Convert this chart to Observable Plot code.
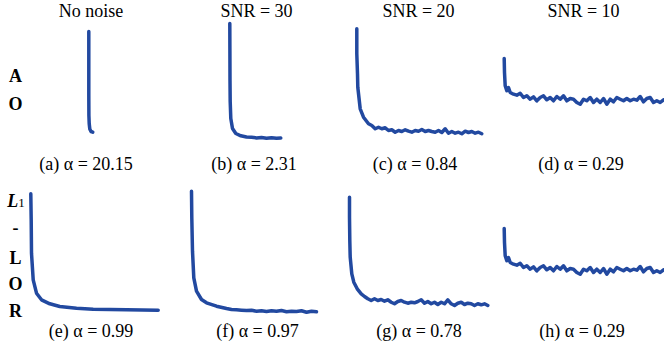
<!DOCTYPE html>
<html>
<head>
<meta charset="utf-8">
<script src="https://cdn.jsdelivr.net/npm/d3@7"></script>
<script src="https://cdn.jsdelivr.net/npm/@observablehq/plot@0.6"></script>
<style>
  html, body { margin: 0; padding: 0; background: #fff; }
  #root { position: relative; width: 664px; height: 354px; overflow: hidden; font-family: "Liberation Serif", "DejaVu Serif", serif; color: #000; }
  .t { position: absolute; font-size: 18px; line-height: 18px; white-space: nowrap; transform: translateX(-50%); }
  .lab { position: absolute; font-size: 18px; line-height: 18px; font-weight: bold; white-space: nowrap; transform: translateX(-50%); }
  .panel { position: absolute; }
</style>
</head>
<body>
<div id="root"></div>
<script>
// Column titles, captions, row labels
const columnTitles = ["No noise", "SNR = 30", "SNR = 20", "SNR = 10"];
const captionsRow1 = ["(a) α = 20.15", "(b) α = 2.31", "(c) α = 0.84", "(d) α = 0.29"];
const captionsRow2 = ["(e) α = 0.99", "(f) α = 0.97", "(g) α = 0.78", "(h) α = 0.29"];
const rowLabel1 = ["A", "O"];
const rowLabel2 = ["L1", "-", "L", "O", "R"];

// Curves: [x, y] pairs (panel units)
const panelA = [[88.3,114],[88.3,80],[88.3,50],[88.4,30],[88.7,22],[89.3,16.5],[90.5,14],[92.3,13.3]];
const panelB = [[63.3,122],[63.4,95],[63.5,65],[63.7,44],[64.3,27],[66,17],[69.3,12],[74.3,9.7],[80,8.5],[85,8.2],[90,7.6],[95,8],[100,7.3],[105,7.8],[110,7.2],[114.3,7.5]];
const panelC = [[24.3,116.7],[24.3,91.7],[25,71.7],[25.3,58.3],[27.7,36.7],[31,28.3],[36,21.7],[39.3,20],[42.7,16.7],[46,18.3],[49.3,16.7],[52.7,17.7],[56,15],[59.3,15.7],[62.7,13.3],[66,15],[69.3,14],[72.7,15.7],[76,14.3],[79.3,13.3],[82.7,15],[86,14.3],[89.3,16],[92.7,14],[96,15],[99.3,14],[102.7,13.3],[106,15],[109.3,13],[112.7,16.7],[116,12.3],[119.3,14],[122.7,12.3],[126,13.3],[129.3,11.7],[132.7,14.3],[136,13],[139.3,14],[142.7,12.3],[146,13.3],[149.3,11.7]];
const panelD = [[5.7,87],[6,73],[6.7,59.7],[8.3,54.7],[10,58],[11.7,53],[15,51.3],[18.3,50.3],[21.7,52.3],[25,48],[28.3,49.7],[31.7,46.3],[35,48.7],[38.3,44.7],[41.7,48],[45,49.7],[48.3,45.7],[51.7,48],[55,44.7],[58.3,49],[61.7,46.3],[65,49.7],[68.3,44.7],[71.7,47],[75,46.3],[78.3,43],[81.7,41.3],[85,46.3],[88.3,44.7],[91.7,48],[95,43],[98.3,46.3],[101.7,43],[105,47],[108.3,41.3],[111.7,46.3],[115,43.7],[118.3,48],[121.7,46.3],[125,44.7],[128.3,47],[131.7,44.7],[135,46.3],[138.3,45.3],[141.7,49],[145,43.7],[148.3,47],[151.7,48],[155,43],[158.3,44.7],[161.7,43],[165,45.7]];
const panelE = [[30.3,121.7],[30.7,95.7],[31,62.3],[32.7,35.7],[36,22.3],[41,15.7],[49.3,11.7],[59.3,9],[76,7.3],[92.7,6.3],[126,5.7],[157.7,5.3]];
const panelF = [[25,124.3],[25.3,97.7],[26,64.3],[27.3,37.7],[30,24.3],[35,16],[40,12.7],[50,9.3],[60,7],[65,6],[70,5.7],[75,5.3],[80,5],[85,5.3],[90,4.3],[95,4.7],[100,4],[105,4.7],[110,4.3],[115,5],[120,3.7],[125,4.3],[130,4],[135,4.7],[140,3.3],[145,4.3],[150,3.7]];
const panelG = [[17,118.3],[17,98.3],[17.3,75],[17.7,58.3],[19.3,41.7],[21.3,33.3],[24.7,26.7],[28.7,21.7],[32,19],[35.3,16.7],[38.7,15],[42,16.7],[45.3,15],[48.7,16],[52,14.3],[55.3,15.7],[58.7,13.3],[62,11.7],[65.3,14],[68.7,15],[72,13.3],[75.3,12.3],[78.7,13.3],[82,12.7],[85.3,14],[88.7,15.7],[92,12.3],[95.3,14],[98.7,11.7],[102,13.3],[105.3,11],[108.7,13.3],[112,11.7],[115.3,15.7],[118.7,11.7],[122,10],[125.3,12.3],[128.7,13.3],[132,11],[135.3,12.3],[138.7,11.7],[142,10],[145.3,11.7],[148.7,10.7],[152,11.7],[155.3,10]];
const panelH = [[5.7,87],[6,73],[6.7,59.7],[8.3,54.7],[10,58],[11.7,53],[15,51.3],[18.3,50.3],[21.7,52.3],[25,48],[28.3,49.7],[31.7,46.3],[35,48.7],[38.3,44.7],[41.7,48],[45,49.7],[48.3,45.7],[51.7,48],[55,44.7],[58.3,49],[61.7,46.3],[65,49.7],[68.3,44.7],[71.7,47],[75,46.3],[78.3,43],[81.7,41.3],[85,46.3],[88.3,44.7],[91.7,48],[95,43],[98.3,46.3],[101.7,43],[105,47],[108.3,41.3],[111.7,46.3],[115,43.7],[118.3,48],[121.7,46.3],[125,44.7],[128.3,47],[131.7,44.7],[135,46.3],[138.3,45.3],[141.7,49],[145,43.7],[148.3,47],[151.7,48],[155,43],[158.3,44.7],[161.7,43],[165,45.7]];

const root = document.getElementById("root");
const COLOR = "#2249a0";
const colW = 166;
const rows = [
  {top: 20, height: 125, panels: [panelA, panelB, panelC, panelD]},
  {top: 185, height: 130, panels: [panelE, panelF, panelG, panelH]}
];

rows.forEach(row => {
  row.panels.forEach((data, i) => {
    const chart = Plot.plot({
      width: colW,
      height: row.height,
      margin: 0,
      x: {domain: [0, colW], axis: null},
      y: {domain: [0, row.height], axis: null},
      style: {overflow: "visible", background: "transparent"},
      marks: [
        Plot.line(data, {x: d => d[0], y: d => d[1], stroke: COLOR, strokeWidth: 3.5, strokeLinejoin: "round", strokeLinecap: "round"})
      ]
    });
    chart.classList.add("panel");
    chart.style.left = (i * colW) + "px";
    chart.style.top = row.top + "px";
    root.appendChild(chart);
  });
});

function addText(cls, text, cx, top, html) {
  const d = document.createElement("div");
  d.className = cls;
  if (html) d.innerHTML = html; else d.textContent = text;
  d.style.left = cx + "px";
  d.style.top = top + "px";
  root.appendChild(d);
  return d;
}

const titleX = [91, 256.5, 418.5, 583.5];
columnTitles.forEach((t, i) => addText("t", t, titleX[i], 2));
const cap1X = [86, 254, 415, 581];
captionsRow1.forEach((t, i) => addText("t", t, cap1X[i], 155));
const cap2X = [91, 257.5, 419, 582];
captionsRow2.forEach((t, i) => addText("t", t, cap2X[i], 322));

const lab1Top = [67, 95];
rowLabel1.forEach((t, i) => addText("lab", t, 15.5, lab1Top[i]));
const lab2Top = [192, 219, 249, 275, 302];
rowLabel2.forEach((t, i) => {
  if (t === "L1") {
    addText("lab", t, 16, lab2Top[i], '<i>L</i><span style="font-weight:normal;font-size:13px">1</span>');
  } else {
    addText("lab", t, 15.5, lab2Top[i]);
  }
});
</script>
</body>
</html>
